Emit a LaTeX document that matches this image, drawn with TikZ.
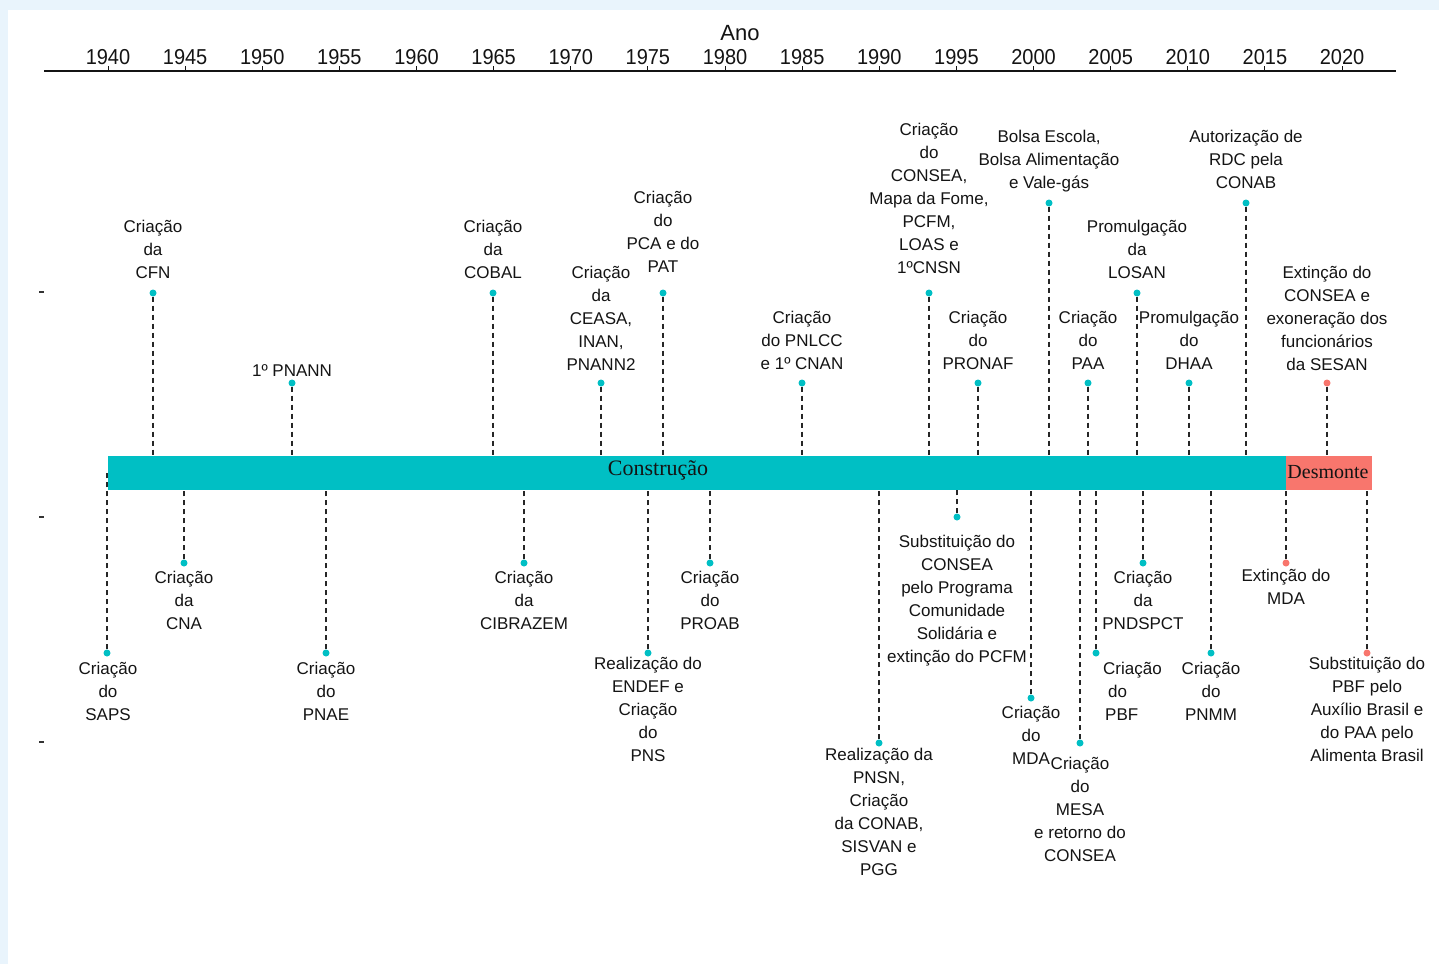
\documentclass[tikz,border=0pt]{standalone}
\usepackage{fontspec}
\setmainfont{Liberation Sans}
\newfontfamily\barfont{Liberation Serif}
\definecolor{tealc}{HTML}{00BFC4}
\definecolor{redc}{HTML}{F8766D}
\definecolor{frameblue}{HTML}{E9F4FC}
\definecolor{txt}{HTML}{141414}
\newcommand\evtop[6]{%
  \node[#5] (d#1) at (#2,#3) {};
  \draw[dline] (d#1) -- (d#1 |- bar.north);
  \node[evlab] (l#1) at (#2,#4-6.5) {#6};}
\newcommand\evbot[6]{%
  \node[#5] (d#1) at (#2,#3) {};
  \draw[dline] (d#1) -- (d#1 |- bar.south);
  \node[evlab] (l#1) at (#2,#4-6.5) {#6};}
\begin{document}
\begin{tikzpicture}[x=1pt,y=-1pt,
  evlab/.style={font=\fontsize{17}{23}\selectfont, align=center, inner sep=0pt, anchor=north, text=txt},
  dotT/.style={circle, fill=tealc, inner sep=0pt, minimum size=7pt},
  dotR/.style={circle, fill=redc, inner sep=0pt, minimum size=7pt},
  dline/.style={dash pattern=on 5pt off 4pt, line width=1.4pt, black!85},
  yearlab/.style={font=\fontsize{20}{24}\selectfont, inner sep=0pt, text=txt, yscale=1.08},
  barbox/.style={inner sep=0pt, minimum height=34pt, anchor=west}]
\fill[frameblue] (0,0) rectangle (1439,964);
\fill[white] (8,10) rectangle (1439,964);
\useasboundingbox (0,0) rectangle (1439,964);
% axis
\node[font=\fontsize{22}{26}\selectfont, text=txt, inner sep=0pt] (ano) at (740,33) {Ano};
\coordinate (axL) at (44,71);
\coordinate (axR) at (1396,71);
\draw[line width=1.5pt, txt] (axL) -- (axR);
\foreach \yr in {1940,1945,...,2020}{
  \pgfmathsetmacro\xx{108+(\yr-1940)*15.425}
  \draw[line width=1pt, txt] (\xx,71) -- (\xx,66);
  \node[yearlab] (y\yr) at (\xx,57) {\yr};
}
\foreach \yy in {292,517,742}{
  \draw[line width=1.3pt, black!80] (39,\yy) -- (44,\yy);
}
% bar
\node[barbox, fill=tealc, minimum width=1178pt] (bar) at (108,473) {};
\node[barbox, fill=redc, minimum width=86pt] (bar2) at (1286,473) {};
\node[font=\barfont\fontsize{22}{26}\selectfont, text=txt, inner sep=0pt] (cons) at (658,470) {Construção};
\node[font=\barfont\fontsize{20}{24}\selectfont, text=txt, inner sep=0pt] (desm) at (1328,472) {Desmonte};
% top events
\evtop{cfn}{153}{293}{226}{dotT}{Criação\\da\\CFN}
\evtop{pnann}{292}{383}{371}{dotT}{1º PNANN}
\evtop{cobal}{493}{293}{226}{dotT}{Criação\\da\\COBAL}
\evtop{ceasa}{601}{383}{272}{dotT}{Criação\\da\\CEASA,\\INAN,\\PNANN2}
\evtop{pca}{663}{293}{197}{dotT}{Criação\\do\\PCA e do\\PAT}
\evtop{pnlcc}{802}{383}{317}{dotT}{Criação\\do PNLCC\\e 1º CNAN}
\evtop{consea}{929}{293}{129}{dotT}{Criação\\do\\CONSEA,\\Mapa da Fome,\\PCFM,\\LOAS e\\1ºCNSN}
\evtop{pronaf}{978}{383}{317}{dotT}{Criação\\do\\PRONAF}
\evtop{bolsa}{1049}{203}{136}{dotT}{Bolsa Escola,\\Bolsa Alimentação\\e Vale-gás}
\evtop{paa}{1088}{383}{317}{dotT}{Criação\\do\\PAA}
\evtop{losan}{1137}{293}{226}{dotT}{Promulgação\\da\\LOSAN}
\evtop{dhaa}{1189}{383}{317}{dotT}{Promulgação\\do\\DHAA}
\evtop{rdc}{1246}{203}{136}{dotT}{Autorização de\\RDC pela\\CONAB}
\evtop{sesan}{1327}{383}{272}{dotR}{Extinção do\\CONSEA e\\exoneração dos\\funcionários\\da SESAN}
% bottom events
\node[dotT] (dsaps) at (107,653) {};
\draw[dline] (dsaps) -- (dsaps |- bar.center);
\node[evlab] (lsaps) at (108,661.5) {Criação\\do\\SAPS};
\evbot{cna}{184}{563}{577}{dotT}{Criação\\da\\CNA}
\evbot{pnae}{326}{653}{668}{dotT}{Criação\\do\\PNAE}
\evbot{cibrazem}{524}{563}{577}{dotT}{Criação\\da\\CIBRAZEM}
\evbot{endef}{648}{653}{663}{dotT}{Realização do\\ENDEF e\\Criação\\do\\PNS}
\evbot{proab}{710}{563}{577}{dotT}{Criação\\do\\PROAB}
\evbot{pnsn}{879}{743}{754}{dotT}{Realização da\\PNSN,\\Criação\\da CONAB,\\SISVAN e\\PGG}
\evbot{subst}{957}{517}{541}{dotT}{Substituição do\\CONSEA\\pelo Programa\\Comunidade\\Solidária e\\extinção do PCFM}
\evbot{mda}{1031}{698}{712}{dotT}{Criação\\do\\MDA}
\evbot{mesa}{1080}{743}{763}{dotT}{Criação\\do\\MESA\\e retorno do\\CONSEA}
\node[dotT] (dpbf) at (1096,653) {};
\draw[dline] (dpbf) -- (dpbf |- bar.south);
\node[evlab, align=left, anchor=north west] (lpbf) at (1103,661.5) {Criação\\\hspace{5pt}do\\\hspace{2pt}PBF};
\evbot{pndspct}{1143}{563}{577}{dotT}{Criação\\da\\PNDSPCT}
\evbot{pnmm}{1211}{653}{668}{dotT}{Criação\\do\\PNMM}
\evbot{extmda}{1286}{563}{575}{dotR}{Extinção do\\MDA}
\evbot{subpbf}{1367}{653}{663}{dotR}{Substituição do\\PBF pelo\\Auxílio Brasil e\\do PAA pelo\\Alimenta Brasil}
\end{tikzpicture}
\end{document}
